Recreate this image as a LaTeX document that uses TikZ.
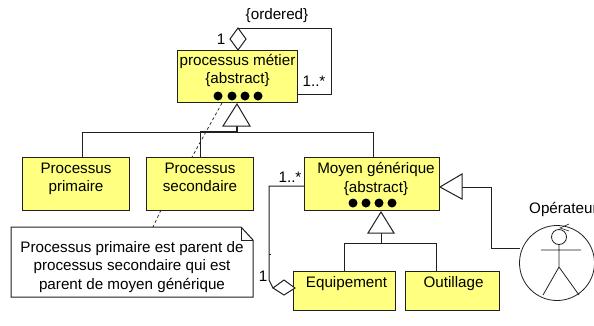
\documentclass[tikz,border=0pt]{standalone}
\usepackage{fontspec}
\setmainfont{Liberation Sans}
\usetikzlibrary{calc}
\definecolor{boxy}{HTML}{FFFF80}
\definecolor{ln}{HTML}{202020}
\tikzset{
  x=1pt,y=-1pt,
  every node/.style={font=\fontsize{15.2}{18.6}\selectfont,text=black},
  edge/.style={draw=ln,line width=1pt},
  box/.style={draw=ln,line width=1pt,fill=boxy,anchor=north west,inner sep=0pt},
  boxtext/.style={anchor=north,inner sep=1pt,align=center,yshift=-4.5pt},
  tag/.style={inner sep=0pt,anchor=center},
  dot/.style={circle,fill=black,minimum size=9pt,inner sep=0pt},
  hollow/.style={draw=ln,line width=1pt,fill=white},
  note link/.style={draw=ln,line width=0.7pt,dash pattern=on 3pt off 2.5pt},
}
\begin{document}
\begin{tikzpicture}
\useasboundingbox (0,0) rectangle (594,325);
\fill[white] (0,0) rectangle (594,325);
% boxes
\node[box,minimum width=120pt,minimum height=52pt,label={[boxtext,yshift=1.5pt]north:processus métier\\\{abstract\}}] (pm) at (177,50) {};
\node[box,minimum width=107pt,minimum height=53pt,label={[boxtext]north:Processus\\primaire}] (pp) at (22,157) {};
\node[box,minimum width=107pt,minimum height=53pt,label={[boxtext]north:Processus\\secondaire}] (ps) at (146,157) {};
\node[box,minimum width=135pt,minimum height=53pt,label={[boxtext,xshift=4pt]north:Moyen générique\\\{abstract\}}] (mg) at (304,157) {};
\node[box,minimum width=102pt,minimum height=39pt,label={[boxtext,xshift=2pt]north:Equipement}] (eq) at (293,271) {};
\node[box,minimum width=94pt,minimum height=39pt,label={[boxtext,xshift=1pt]north:Outillage}] (ou) at (405,271) {};
% dots
\foreach \n/\x/\y in {a/218/96,b/232/96,c/245/96,d/258/96,e/353/203,f/366/203,g/379/203,h/392/203}
  \node[dot] (dot\n) at (\x,\y) {};
% note
\coordinate (nA) at (11,227); \coordinate (nB) at (241,227); \coordinate (nC) at (253,240);
\coordinate (nD) at (253,297); \coordinate (nE) at (11,297); \coordinate (nF) at (241,240);
\draw[edge,fill=white] (nA) -- (nB) -- (nC) -- (nD) -- (nE) -- cycle;
\draw[edge] (nB) -- (nF) -- (nC);
\node[inner sep=0pt,align=center] (note) at (132,267) {Processus primaire est parent de\\processus secondaire qui est\\parent de moyen générique};
% dashed note links (behind the secondary box)
\coordinate (d1) at (222,103); \coordinate (d2) at (192,157); \coordinate (d3) at (161,210); \coordinate (d4) at (153,227);
\draw[note link] (d1) -- (d2);
\draw[note link] (d3) -- (d4);
% generalisation 1
\coordinate (t1a) at (237,104); \coordinate (t1b) at (250,126); \coordinate (t1c) at (223,126);
\coordinate (t1s) at (237,132); \coordinate (t1l) at (82,132); \coordinate (t1r) at (373,132);
\coordinate (t1m) at (200,132);
\draw[edge] (t1l) -- (t1r);
\draw[edge] (t1l) -- (t1l |- pp.north);
\draw[edge] (t1m) -- (t1m |- ps.north);
\draw[edge] (t1r) -- (t1r |- mg.north);
\draw[edge,line width=1.6pt] (200,132) -- (t1s) -- (237,126);
\draw[hollow] (t1a) -- (t1b) -- (t1c) -- cycle;
% self aggregation
\coordinate (sa1) at (238,50); \coordinate (sa2) at (246,39); \coordinate (sa3) at (238,28); \coordinate (sa4) at (230,39);
\coordinate (sl1) at (331,28); \coordinate (sl2) at (331,94); \coordinate (sl3) at (298,94);
\draw[edge] (sa3) -- (sl1) -- (sl2) -- (sl3);
\draw[hollow] (sa1) -- (sa2) -- (sa3) -- (sa4) -- cycle;
\node[tag] (ordered) at (277,16) {\{ordered\}};
\node[tag] (one1) at (221,39) {1};
\node[tag] (many1) at (314,81) {1..*};
% aggregation moyen - equipement
\coordinate (ag1) at (295,288); \coordinate (ag2) at (284,280); \coordinate (ag3) at (273,288); \coordinate (ag4) at (284,295);
\coordinate (al1) at (269,280); \coordinate (al2) at (269,186);
\draw[edge] (ag3) -- (al1) -- (al2) -- (304,186);
\draw[edge,line width=0.7pt] (269,254) -- (271,254);
\draw[hollow] (ag1) -- (ag2) -- (ag3) -- (ag4) -- cycle;
\node[tag] (one2) at (263,276) {1};
\node[tag] (many2) at (290,177) {1..*};
% generalisation 2
\coordinate (t2a) at (381,212); \coordinate (t2b) at (394,233); \coordinate (t2c) at (368,233);
\coordinate (t2s) at (381,243); \coordinate (t2l) at (344,243); \coordinate (t2r) at (436,243);
\draw[edge] (t2l) -- (t2r);
\draw[edge] (t2s) -- (381,233);
\draw[edge] (t2l) -- (t2l |- eq.north);
\draw[edge] (t2r) -- (t2r |- ou.north);
\draw[hollow] (t2a) -- (t2b) -- (t2c) -- cycle;
% actor
\node[draw=ln,line width=0.8pt,circle,minimum size=75pt,inner sep=0pt] (actor) at (557,263) {};
\node[draw=ln,line width=0.8pt,circle,minimum size=15pt,inner sep=0pt] (head) at (559,237) {};
\coordinate (neck) at (559,245); \coordinate (hip) at (559,267);
\coordinate (armL) at (541,250); \coordinate (armR) at (581,250);
\coordinate (legL) at (543,295); \coordinate (legR) at (579,295);
\draw[edge,line width=0.8pt] (neck) -- (hip) (armL) -- (armR) (legL) -- (hip) -- (legR);
\draw[edge,line width=0.6pt] (569,224) -- (560,228) -- (569,231);
\node[tag,anchor=west] (opname) at (529,209) {Opérateur};
% generalisation 3
\coordinate (t3a) at (440,187); \coordinate (t3b) at (462,174); \coordinate (t3c) at (462,199);
\coordinate (t3k1) at (491,187); \coordinate (t3k2) at (491,248); \coordinate (t3e) at (520,248);
\draw[edge] (462,187) -- (t3k1) -- (t3k2) -- (t3e);
\draw[hollow] (t3a) -- (t3b) -- (t3c) -- cycle;
\end{tikzpicture}
\end{document}
